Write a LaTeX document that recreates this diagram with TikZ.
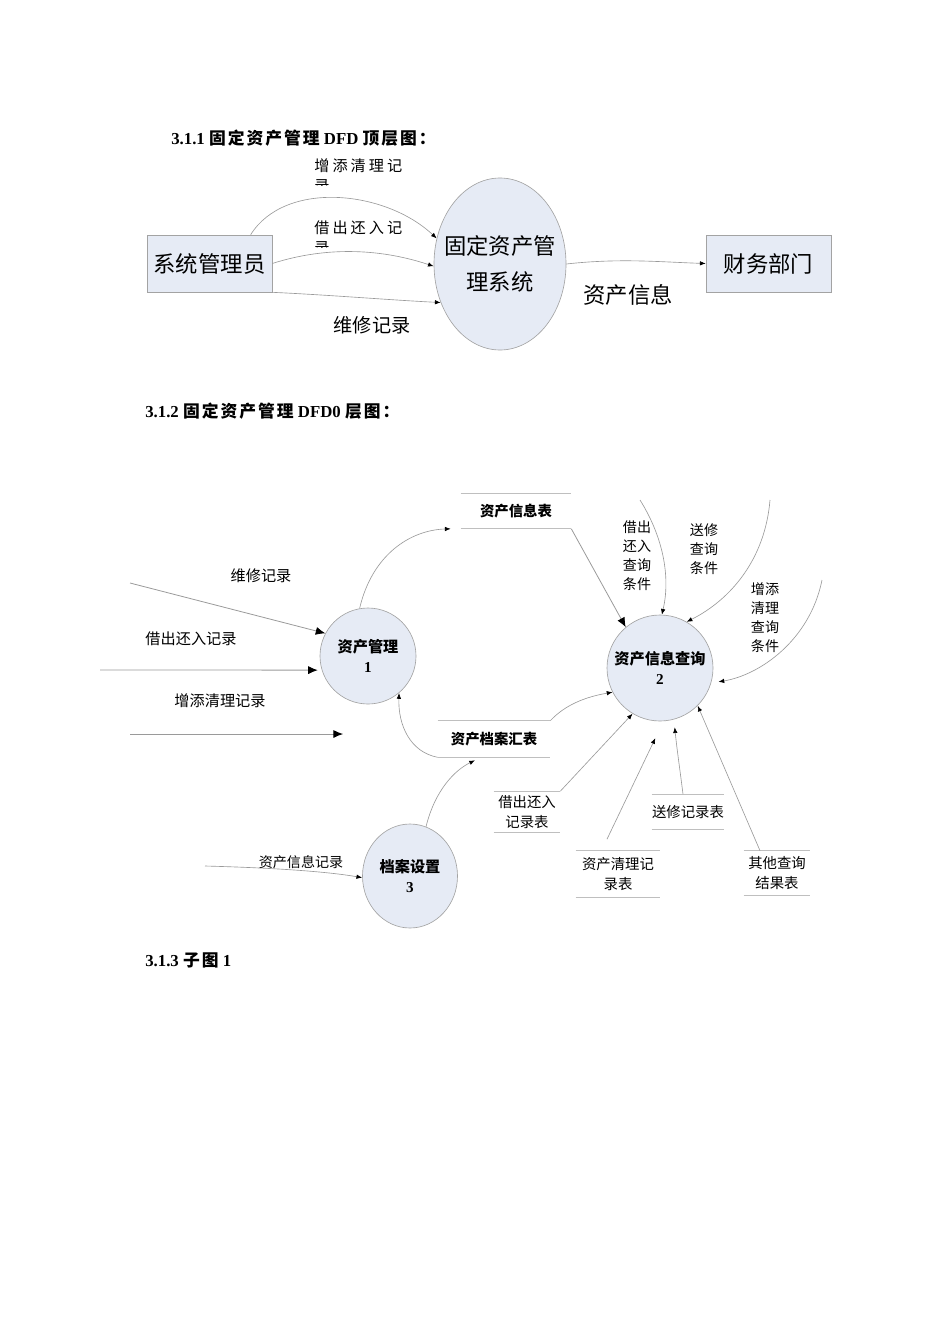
\documentclass[tikz,border=0pt]{standalone}
\usepackage{fontspec}
\setmainfont{Liberation Serif}
\newfontfamily\cjk{Noto Sans CJK SC}
\newfontfamily\cjkwide[LetterSpace=20]{Noto Sans CJK SC}
\newfontfamily\cjkhead[LetterSpace=12]{Noto Sans CJK SC}
\usetikzlibrary{arrows.meta,shapes.geometric}

\definecolor{bubble}{HTML}{E6EBF5}
\definecolor{rim}{HTML}{A3A3A3}
\definecolor{wire}{HTML}{9A9A9A}
\def\px{0.626pt}

\tikzset{
  head/.style={anchor=west,inner sep=0pt,font=\bfseries\fontsize{10.5}{12}\selectfont},
  entity/.style={draw=rim,fill=bubble,minimum width=125*\px,minimum height=57*\px,inner sep=0pt,font=\cjk\fontsize{14}{16}\selectfont},
  proc/.style={draw=rim,fill=bubble,inner sep=0pt,align=center,font=\bfseries\fontsize{9.5}{13}\selectfont},
  store/.style={inner sep=0pt,align=center,font=\cjk\fontsize{9}{12}\selectfont},
  storeline/.style={draw=rim!70,line width=0.5pt},
  lbl/.style={inner sep=0pt,font=\cjk\fontsize{9.5}{12}\selectfont},
  stack/.style={inner sep=0pt,align=center,font=\cjk\fontsize{8.8}{11.9}\selectfont},
  flow/.style={draw=wire,line width=0.4pt,-{Latex[length=3.6pt,width=2.8pt,color=black]}},
  bigflow/.style={draw=wire,line width=0.5pt,-{Latex[length=6pt,width=5pt,color=black]}}
}

\begin{document}
\begin{tikzpicture}[x=0.626pt,y=-0.626pt]
  \useasboundingbox (0,0) rectangle (950,1344);

  % top level
  \node[head] (h1) at (171,138) {3.1.1 {\cjkhead 固定资产管理} DFD {\cjkhead 顶层图：}};

  \node[entity] (admin) at (209.5,263.5) {系统管理员};
  \node[draw=rim,fill=bubble,ellipse,minimum width=132*\px,minimum height=172*\px,inner sep=0pt] (sys) at (500,264) {};
  \node[align=center,inner sep=0pt,font=\cjk\fontsize{14}{23}\selectfont] (systext) at (sys) {固定资产管\\理系统};
  \node[entity] (fin) at (768.5,263.5) {财务部门};

  \draw[flow] (admin.35) .. controls (285,180) and (385,190) .. (sys.158);
  \draw[flow] (admin.east) .. controls (330,245) and (385,250) .. (sys.182);
  \draw[flow] (admin.south east) .. controls (330,295) and (390,300) .. (sys.213);
  \draw[flow] (sys.east) .. controls (620,258) and (660,262) .. (fin.west);

  \node[lbl,anchor=west,font=\cjkwide\fontsize{9.5}{12}\selectfont] (t1) at (314,166) {增添清理记};
  \node[lbl,anchor=west,font=\cjkwide\fontsize{9.5}{12}\selectfont] (t2) at (314,228) {借出还入记};
  \begin{scope}
    \clip (310,176) rectangle (335,185);
    \node[lbl] (t1b) at (322,186) {录};
  \end{scope}
  \begin{scope}
    \clip (310,238) rectangle (335,247);
    \node[lbl] (t2b) at (322,248) {录};
  \end{scope}
  \node[lbl,font=\cjk\fontsize{12}{14}\selectfont] (t3) at (372,325) {维修记录};
  \node[lbl,font=\cjk\fontsize{14}{16}\selectfont] (t4) at (628,295) {资产信息};

  % level 0
  \node[head] (h2) at (145,411) {3.1.2 {\cjkhead 固定资产管理} DFD0 {\cjkhead 层图：}};

  \node[proc,circle,minimum size=96*\px] (p1) at (368,656) {{\cjk 资产管理}\\1};
  \node[proc,circle,minimum size=106*\px] (p2) at (660,668) {{\cjk 资产信息查询}\\2};
  \node[proc,ellipse,minimum width=95*\px,minimum height=104*\px] (p3) at (410,876) {{\cjk 档案设置}\\3};

  \def \Stores {
    s1/516/511/110/35/\bfseries 资产信息表,
    s2/494/739/112/36/\bfseries 资产档案汇表,
    s3/527/812/66/41/借出还入\\记录表,
    s4/688/812/72/35/送修记录表,
    s5/618/874/84/47/资产清理记\\录表,
    s6/777/873/66/44/其他查询\\结果表}
  \foreach \id / \x / \y / \w / \h / \t in \Stores {
    \node[store,minimum width=\w*\px,minimum height=\h*\px] (\id) at (\x,\y) {\t};
    \draw[storeline] (\id.north west) -- (\id.north east) (\id.south west) -- (\id.south east);
  }

  \coordinate (in1) at (130,583);
  \coordinate (in2) at (100,670);
  \coordinate (in3) at (130,734);
  \coordinate (in3e) at (343,734);
  \coordinate (in4) at (205,866);
  \coordinate (q1) at (640,500);
  \coordinate (q2) at (770,500);
  \coordinate (q3) at (822,580);

  \draw[bigflow] (in1) -- (p1.152);
  \draw[bigflow,shorten >=4*\px] (in2) -- (p1.197);
  \draw[bigflow] (in3) -- (in3e);
  \draw[flow] (in4) .. controls (280,868) and (330,872) .. (p3.182);

  \node[lbl] (l1) at (261,576) {维修记录};
  \node[lbl] (l2) at (191,639) {借出还入记录};
  \node[lbl] (l3) at (220,701) {增添清理记录};
  \node[lbl,font=\cjk\fontsize{8.8}{10}\selectfont] (l4) at (301,862) {资产信息记录};

  \draw[flow] (p1.100) .. controls (372,555) and (410,530) .. ([xshift=-10*\px]s1.south west);
  \draw[bigflow] (s1.south east) -- (p2.130);
  \draw[flow] (q1) .. controls (665,540) and (670,580) .. (p2.88);
  \draw[flow] (q2) .. controls (765,560) and (730,600) .. (p2.60);
  \draw[flow] (q3) .. controls (810,640) and (760,675) .. ([xshift=7*\px]p2.-15);

  \node[stack] (k1) at (637,556) {借出\\还入\\查询\\条件};
  \node[stack] (k2) at (704,549) {送修\\查询\\条件};
  \node[stack] (k3) at (765,618) {增添\\清理\\查询\\条件};

  \draw[flow] (s2.north east) .. controls (565,705) and (585,697) .. (p2.207);
  \draw[flow] (s2.south west) .. controls (410,752) and (398,725) .. (p1.310);
  \draw[flow] (p3.72) .. controls (435,790) and (455,770) .. ([xshift=-19*\px,yshift=-3*\px]s2.south);
  \draw[flow] (s3.north east) -- (p2.239);
  \draw[flow] ([xshift=-11*\px,yshift=11*\px]s5.north) -- ([yshift=-17*\px]p2.265);
  \draw[flow] ([xshift=-5*\px]s4.north) .. controls (680,770) and (677,750) .. ([yshift=-8*\px]p2.286);
  \draw[flow] ([xshift=-17*\px]s6.north) -- (p2.315);

  \node[head] (h3) at (145,960) {3.1.3 {\cjkhead 子图} 1};
\end{tikzpicture}
\end{document}
